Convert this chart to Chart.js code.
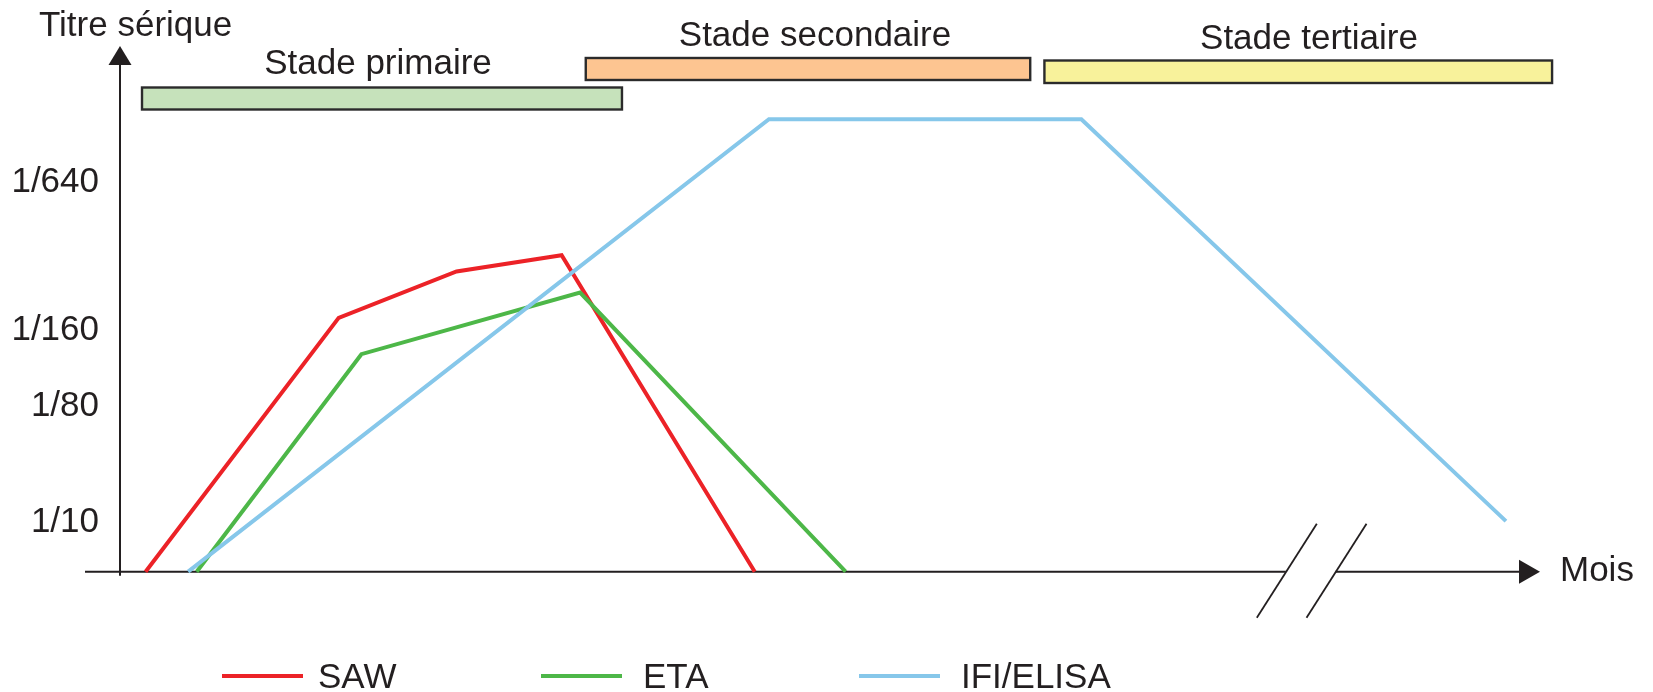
<!DOCTYPE html>
<html>
<head>
<meta charset="utf-8">
<script src="https://cdn.jsdelivr.net/npm/chart.js@4/dist/chart.umd.min.js"></script>
<style>
html,body{margin:0;padding:0;background:#fff;}
#wrap{width:1653px;height:692px;position:relative;}
canvas{display:block;}
</style>
</head>
<body>
<div id="wrap"><canvas id="c" width="1653" height="692"></canvas></div>
<script>
// ---- data (x: time in arbitrary "month" units, y: relative titre level) ----
const seriesNames = ['SAW', 'ETA', 'IFI/ELISA'];
const sawX = [1.8, 15.4, 23.7, 31.1, 44.7];
const sawY = [0, 48.2, 57.0, 60.1, 0];
const etaX = [5.4, 17.0, 32.4, 51.1];
const etaY = [0, 41.3, 53.0, 0];
const ifiX = [4.8, 45.7, 67.7, 97.6];
const ifiY = [0, 85.9, 85.9, 9.6];

const yTickValues = [9.3, 31.3, 45.9, 74.0];
const yTickLabels = ['1/10', '1/80', '1/160', '1/640'];

const stageNames = ['Stade primaire', 'Stade secondaire', 'Stade tertiaire'];
const stageStart = [1.55, 32.8, 65.1];
const stageEnd = [35.35, 64.1, 100.85];

const yAxisTitle = 'Titre sérique';
const xAxisTitle = 'Mois';

// ---- styles / layout ----
const INK = '#231f20';
const FONT = '"Liberation Sans", Arial, Helvetica, sans-serif';
const seriesColors = ['#ec2227', '#4db748', '#86c7ea'];
const stageFill = ['#c6e2bb', '#fdc591', '#f8f29b'];
const stageRows = [ {top: 87.5, h: 22}, {top: 58, h: 22}, {top: 60.5, h: 22.5} ];
const stageLabelPos = [ {x: 378, y: 74}, {x: 815, y: 46}, {x: 1309, y: 49} ];

const pts = (xs, ys) => xs.map((v, i) => ({x: v, y: ys[i]}));

const overlay = {
  id: 'overlay',
  beforeDatasetsDraw(chart) {
    const {ctx, chartArea: ca, scales: {x, y}} = chart;
    ctx.save();
    // stage bars
    stageNames.forEach((name, i) => {
      const x0 = x.getPixelForValue(stageStart[i]);
      const x1 = x.getPixelForValue(stageEnd[i]);
      const r = stageRows[i];
      ctx.fillStyle = stageFill[i];
      ctx.fillRect(x0, r.top, x1 - x0, r.h);
      ctx.lineWidth = 2.4;
      ctx.strokeStyle = '#2b2b2b';
      ctx.strokeRect(x0, r.top, x1 - x0, r.h);
      ctx.fillStyle = INK;
      ctx.font = '35px ' + FONT;
      ctx.textAlign = 'center';
      ctx.textBaseline = 'alphabetic';
      ctx.fillText(name, stageLabelPos[i].x, stageLabelPos[i].y);
    });

    const ox = ca.left;
    const oy = y.getPixelForValue(0);
    ctx.strokeStyle = INK;
    ctx.fillStyle = INK;
    ctx.lineWidth = 2;
    // y axis with arrow
    ctx.beginPath();
    ctx.moveTo(ox, oy + 4);
    ctx.lineTo(ox, ca.top + 16);
    ctx.stroke();
    ctx.beginPath();
    ctx.moveTo(ox, ca.top + 1);
    ctx.lineTo(ox - 11.5, ca.top + 20);
    ctx.lineTo(ox + 11.5, ca.top + 20);
    ctx.closePath();
    ctx.fill();
    // x axis with break and arrow
    const b1 = x.getPixelForValue(82.1);
    const b2 = x.getPixelForValue(85.6);
    const tip = ca.right;
    ctx.beginPath();
    ctx.moveTo(85, oy); ctx.lineTo(b1, oy);
    ctx.moveTo(b2, oy); ctx.lineTo(tip - 18, oy);
    ctx.stroke();
    ctx.beginPath();
    ctx.moveTo(tip, oy);
    ctx.lineTo(tip - 21, oy - 12);
    ctx.lineTo(tip - 21, oy + 12);
    ctx.closePath();
    ctx.fill();
    // break slashes
    ctx.lineWidth = 1.8;
    [b1, b2].forEach(bx => {
      ctx.beginPath();
      ctx.moveTo(bx - 29, oy + 46);
      ctx.lineTo(bx + 31, oy - 48);
      ctx.stroke();
    });
    // axis titles
    ctx.font = '35px ' + FONT;
    ctx.textAlign = 'left';
    ctx.textBaseline = 'alphabetic';
    ctx.fillText(yAxisTitle, 39, 36);
    ctx.fillText(xAxisTitle, 1560, 581);
    ctx.restore();
  },
  afterDraw(chart) {
    const {ctx} = chart;
    const lineX = [222, 541, 859];
    const textX = [318, 643, 961];
    const ly = 676;
    ctx.save();
    seriesNames.forEach((name, i) => {
      ctx.strokeStyle = seriesColors[i];
      ctx.lineWidth = 4;
      ctx.beginPath();
      ctx.moveTo(lineX[i], ly);
      ctx.lineTo(lineX[i] + 81, ly);
      ctx.stroke();
      ctx.fillStyle = INK;
      ctx.font = '35px ' + FONT;
      ctx.textAlign = 'left';
      ctx.textBaseline = 'alphabetic';
      ctx.fillText(name, textX[i], 688);
    });
    ctx.restore();
  }
};

const mk = (i, xs, ys) => ({
  label: seriesNames[i],
  data: pts(xs, ys),
  borderColor: seriesColors[i],
  backgroundColor: seriesColors[i],
  borderWidth: 4,
  pointRadius: 0,
  tension: 0,
  fill: false,
  clip: false,
  borderJoinStyle: 'miter'
});

new Chart(document.getElementById('c'), {
  type: 'line',
  data: {
    datasets: [
      mk(2, ifiX, ifiY),
      mk(1, etaX, etaY),
      mk(0, sawX, sawY)
    ]
  },
  options: {
    responsive: false,
    animation: false,
    devicePixelRatio: 1,
    layout: { padding: { left: 0, top: 45, right: 113, bottom: 120.3 } },
    plugins: { legend: { display: false }, tooltip: { enabled: false } },
    scales: {
      x: { type: 'linear', min: 0, max: 100, display: false },
      y: {
        type: 'linear', min: 0, max: 100,
        afterFit(s) { s.width = 120; },
        afterBuildTicks(s) { s.ticks = yTickValues.map(v => ({value: v})); },
        grid: { display: false, drawTicks: false },
        border: { display: false },
        ticks: {
          padding: 21,
          color: INK,
          font: { size: 35, family: FONT },
          callback: (v, i) => yTickLabels[i]
        }
      }
    }
  },
  plugins: [overlay]
});
</script>
</body>
</html>
